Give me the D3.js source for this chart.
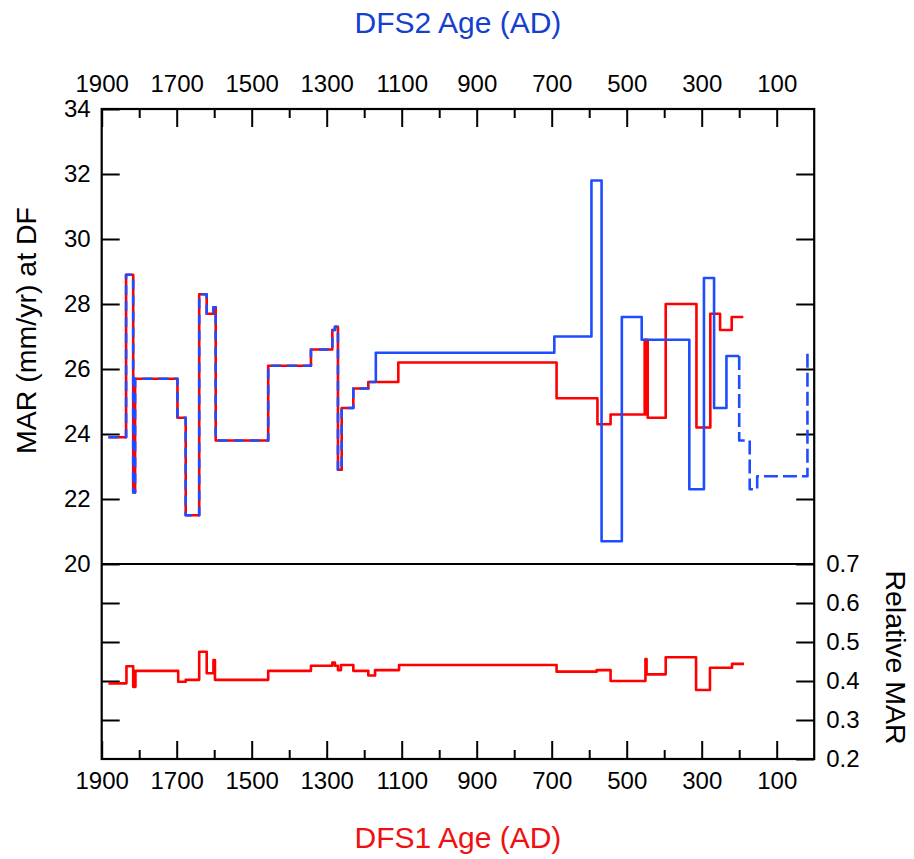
<!DOCTYPE html>
<html>
<head>
<meta charset="utf-8">
<script src="https://cdn.jsdelivr.net/npm/d3@7"></script>
<style>
  body { margin: 0; background: #fff; }
  svg { font-family: "Liberation Sans", Arial, sans-serif; }
</style>
</head>
<body>
<svg width="914" height="859"></svg>
<script>
// DFS1 record: age boundaries (AD) and MAR (mm/yr) for each step between them
const dfs1Ages = [1882, 1835, 1816, 1811, 1698, 1676, 1640, 1620, 1602, 1596, 1456, 1342, 1285, 1278, 1270, 1260, 1229, 1189, 1109, 687, 578, 543, 452, 449, 447, 444, 396, 314, 277, 251, 220, 189];
const dfs1Mar = [23.9, 28.9, 22.2, 25.7, 24.5, 21.5, 28.3, 27.7, 27.9, 23.8, 26.1, 26.6, 27.2, 27.3, 22.9, 24.8, 25.4, 25.6, 26.2, 25.1, 24.3, 24.6, 26.9, 24.6, 26.9, 24.5, 28.0, 24.2, 27.7, 27.2, 27.6];

// DFS2 record
const dfs2Ages = [1882, 1835, 1816, 1811, 1698, 1676, 1640, 1620, 1602, 1596, 1456, 1342, 1285, 1278, 1270, 1260, 1229, 1189, 1169, 693, 594, 567, 513, 460, 333, 294, 267, 234, 200, 172, 152, 18, 9];
const dfs2Mar = [23.9, 28.9, 22.2, 25.7, 24.5, 21.5, 28.3, 27.7, 27.9, 23.8, 26.1, 26.6, 27.2, 27.3, 22.9, 24.8, 25.4, 25.6, 26.5, 27.0, 31.8, 20.7, 27.6, 26.9, 22.3, 28.8, 24.8, 26.4, 23.8, 22.3, 22.7, 26.5];
// DFS2 drawn solid only between these ages, dashed elsewhere
const dfs2SolidFrom = 1169, dfs2SolidTo = 200;

// relative MAR (DFS1)
const relAges = [1882, 1834, 1816, 1810, 1696, 1676, 1640, 1620, 1602, 1598, 1456, 1342, 1285, 1278, 1270, 1262, 1229, 1189, 1171, 1107, 687, 580, 543, 450, 447, 396, 315, 278, 219, 187];
const relMar = [0.394, 0.438, 0.385, 0.426, 0.398, 0.403, 0.475, 0.420, 0.454, 0.403, 0.426, 0.439, 0.447, 0.439, 0.428, 0.441, 0.426, 0.414, 0.428, 0.441, 0.424, 0.428, 0.400, 0.456, 0.417, 0.461, 0.377, 0.434, 0.444];

const ageMajor = [1900, 1700, 1500, 1300, 1100, 900, 700, 500, 300, 100];
const ageMinor = [1800, 1600, 1400, 1200, 1000, 800, 600, 400, 200];
const marTicks = [20, 22, 24, 26, 28, 30, 32, 34];
const relTicks = [0.2, 0.3, 0.4, 0.5, 0.6, 0.7];

const red = "#ff0000";
const blue = "#1e4dff";

const pLeft = 101.7, pRight = 814.2, pTop = 109, pMid = 564, pBottom = 759;

const svg = d3.select("svg");

const x = d3.scaleLinear().domain([1900, 0]).range([pLeft, pRight]);
const yTop = d3.scaleLinear().domain([20, 34]).range([pMid, pTop]);
const yBot = d3.scaleLinear().domain([0.2, 0.7]).range([pBottom, pMid]);

function stepPoints(ages, vals) {
  const pts = [];
  vals.forEach((v, i) => {
    pts.push([ages[i], v], [ages[i + 1], v]);
  });
  return pts;
}

const lineTop = d3.line().x(d => x(d[0])).y(d => yTop(d[1]));
const lineBot = d3.line().x(d => x(d[0])).y(d => yBot(d[1]));

// axes
function styleAxis(g) {
  g.select(".domain").remove();
  g.selectAll(".tick line").attr("stroke", "#000").attr("stroke-width", 2);
  g.selectAll(".tick text").attr("fill", "#000").style("font-size", "24px");
}

svg.append("g").attr("transform", `translate(0,${pTop})`)
  .call(d3.axisTop(x).tickValues(ageMajor).tickSize(-18).tickPadding(17).tickFormat(d3.format("d")))
  .call(styleAxis);
svg.append("g").attr("transform", `translate(0,${pTop})`)
  .call(d3.axisTop(x).tickValues(ageMinor).tickSize(-9).tickFormat(""))
  .call(styleAxis);
svg.append("g").attr("transform", `translate(0,${pBottom})`)
  .call(d3.axisBottom(x).tickValues(ageMajor).tickSize(-18).tickPadding(13).tickFormat(d3.format("d")))
  .call(styleAxis);
svg.append("g").attr("transform", `translate(0,${pBottom})`)
  .call(d3.axisBottom(x).tickValues(ageMinor).tickSize(-9).tickFormat(""))
  .call(styleAxis);

svg.append("g").attr("transform", `translate(${pLeft},0)`)
  .call(d3.axisLeft(yTop).tickValues(marTicks).tickSize(-18).tickPadding(11))
  .call(styleAxis);
svg.append("g").attr("transform", `translate(${pLeft},0)`)
  .call(d3.axisLeft(yBot).tickValues([0.3, 0.4, 0.5, 0.6]).tickSize(-18).tickFormat(""))
  .call(styleAxis);
svg.append("g").attr("transform", `translate(${pRight},0)`)
  .call(d3.axisRight(yTop).tickValues(marTicks.slice(1, -1)).tickSize(-18).tickFormat(""))
  .call(styleAxis);
svg.append("g").attr("transform", `translate(${pRight},0)`)
  .call(d3.axisRight(yBot).tickValues(relTicks).tickSize(-18).tickPadding(12).tickFormat(d3.format(".1f")))
  .call(styleAxis);

// frame and panel divider
svg.append("rect")
  .attr("x", pLeft).attr("y", pTop)
  .attr("width", pRight - pLeft).attr("height", pBottom - pTop)
  .attr("fill", "none").attr("stroke", "#000").attr("stroke-width", 2.2);
svg.append("line")
  .attr("x1", pLeft).attr("x2", pRight)
  .attr("y1", pMid).attr("y2", pMid)
  .attr("stroke", "#000").attr("stroke-width", 2.2);

// data lines
const lines = svg.append("g")
  .attr("fill", "none")
  .attr("stroke-width", 2.6)
  .attr("stroke-linejoin", "round");

lines.append("path")
  .attr("d", lineTop(stepPoints(dfs1Ages, dfs1Mar)))
  .attr("stroke", red);

const p2 = stepPoints(dfs2Ages, dfs2Mar);
const i0 = p2.findIndex(d => d[0] === dfs2SolidFrom);
const i1 = p2.findIndex(d => d[0] === dfs2SolidTo);
lines.append("path")
  .attr("d", lineTop(p2.slice(0, i0 + 1)))
  .attr("stroke", blue)
  .attr("stroke-dasharray", "10,6");
lines.append("path")
  .attr("d", lineTop(p2.slice(i0, i1 + 1)))
  .attr("stroke", blue);
lines.append("path")
  .attr("d", lineTop(p2.slice(i1)))
  .attr("stroke", blue)
  .attr("stroke-dasharray", "14,5");

lines.append("path")
  .attr("d", lineBot(stepPoints(relAges, relMar)))
  .attr("stroke", red);

// titles
svg.append("text")
  .attr("x", (pLeft + pRight) / 2).attr("y", 33)
  .attr("text-anchor", "middle")
  .attr("fill", "#1440d0")
  .style("font-size", "30px")
  .text("DFS2 Age (AD)");
svg.append("text")
  .attr("x", (pLeft + pRight) / 2).attr("y", 848)
  .attr("text-anchor", "middle")
  .attr("fill", "#f01010")
  .style("font-size", "30px")
  .text("DFS1 Age (AD)");
svg.append("text")
  .attr("transform", `translate(36,${(pTop + pMid) / 2 - 6}) rotate(-90)`)
  .attr("text-anchor", "middle")
  .style("font-size", "28.5px")
  .text("MAR (mm/yr) at DF");
svg.append("text")
  .attr("transform", `translate(886,${(pMid + pBottom) / 2 - 4}) rotate(90)`)
  .attr("text-anchor", "middle")
  .style("font-size", "28.5px")
  .text("Relative MAR");
</script>
</body>
</html>
